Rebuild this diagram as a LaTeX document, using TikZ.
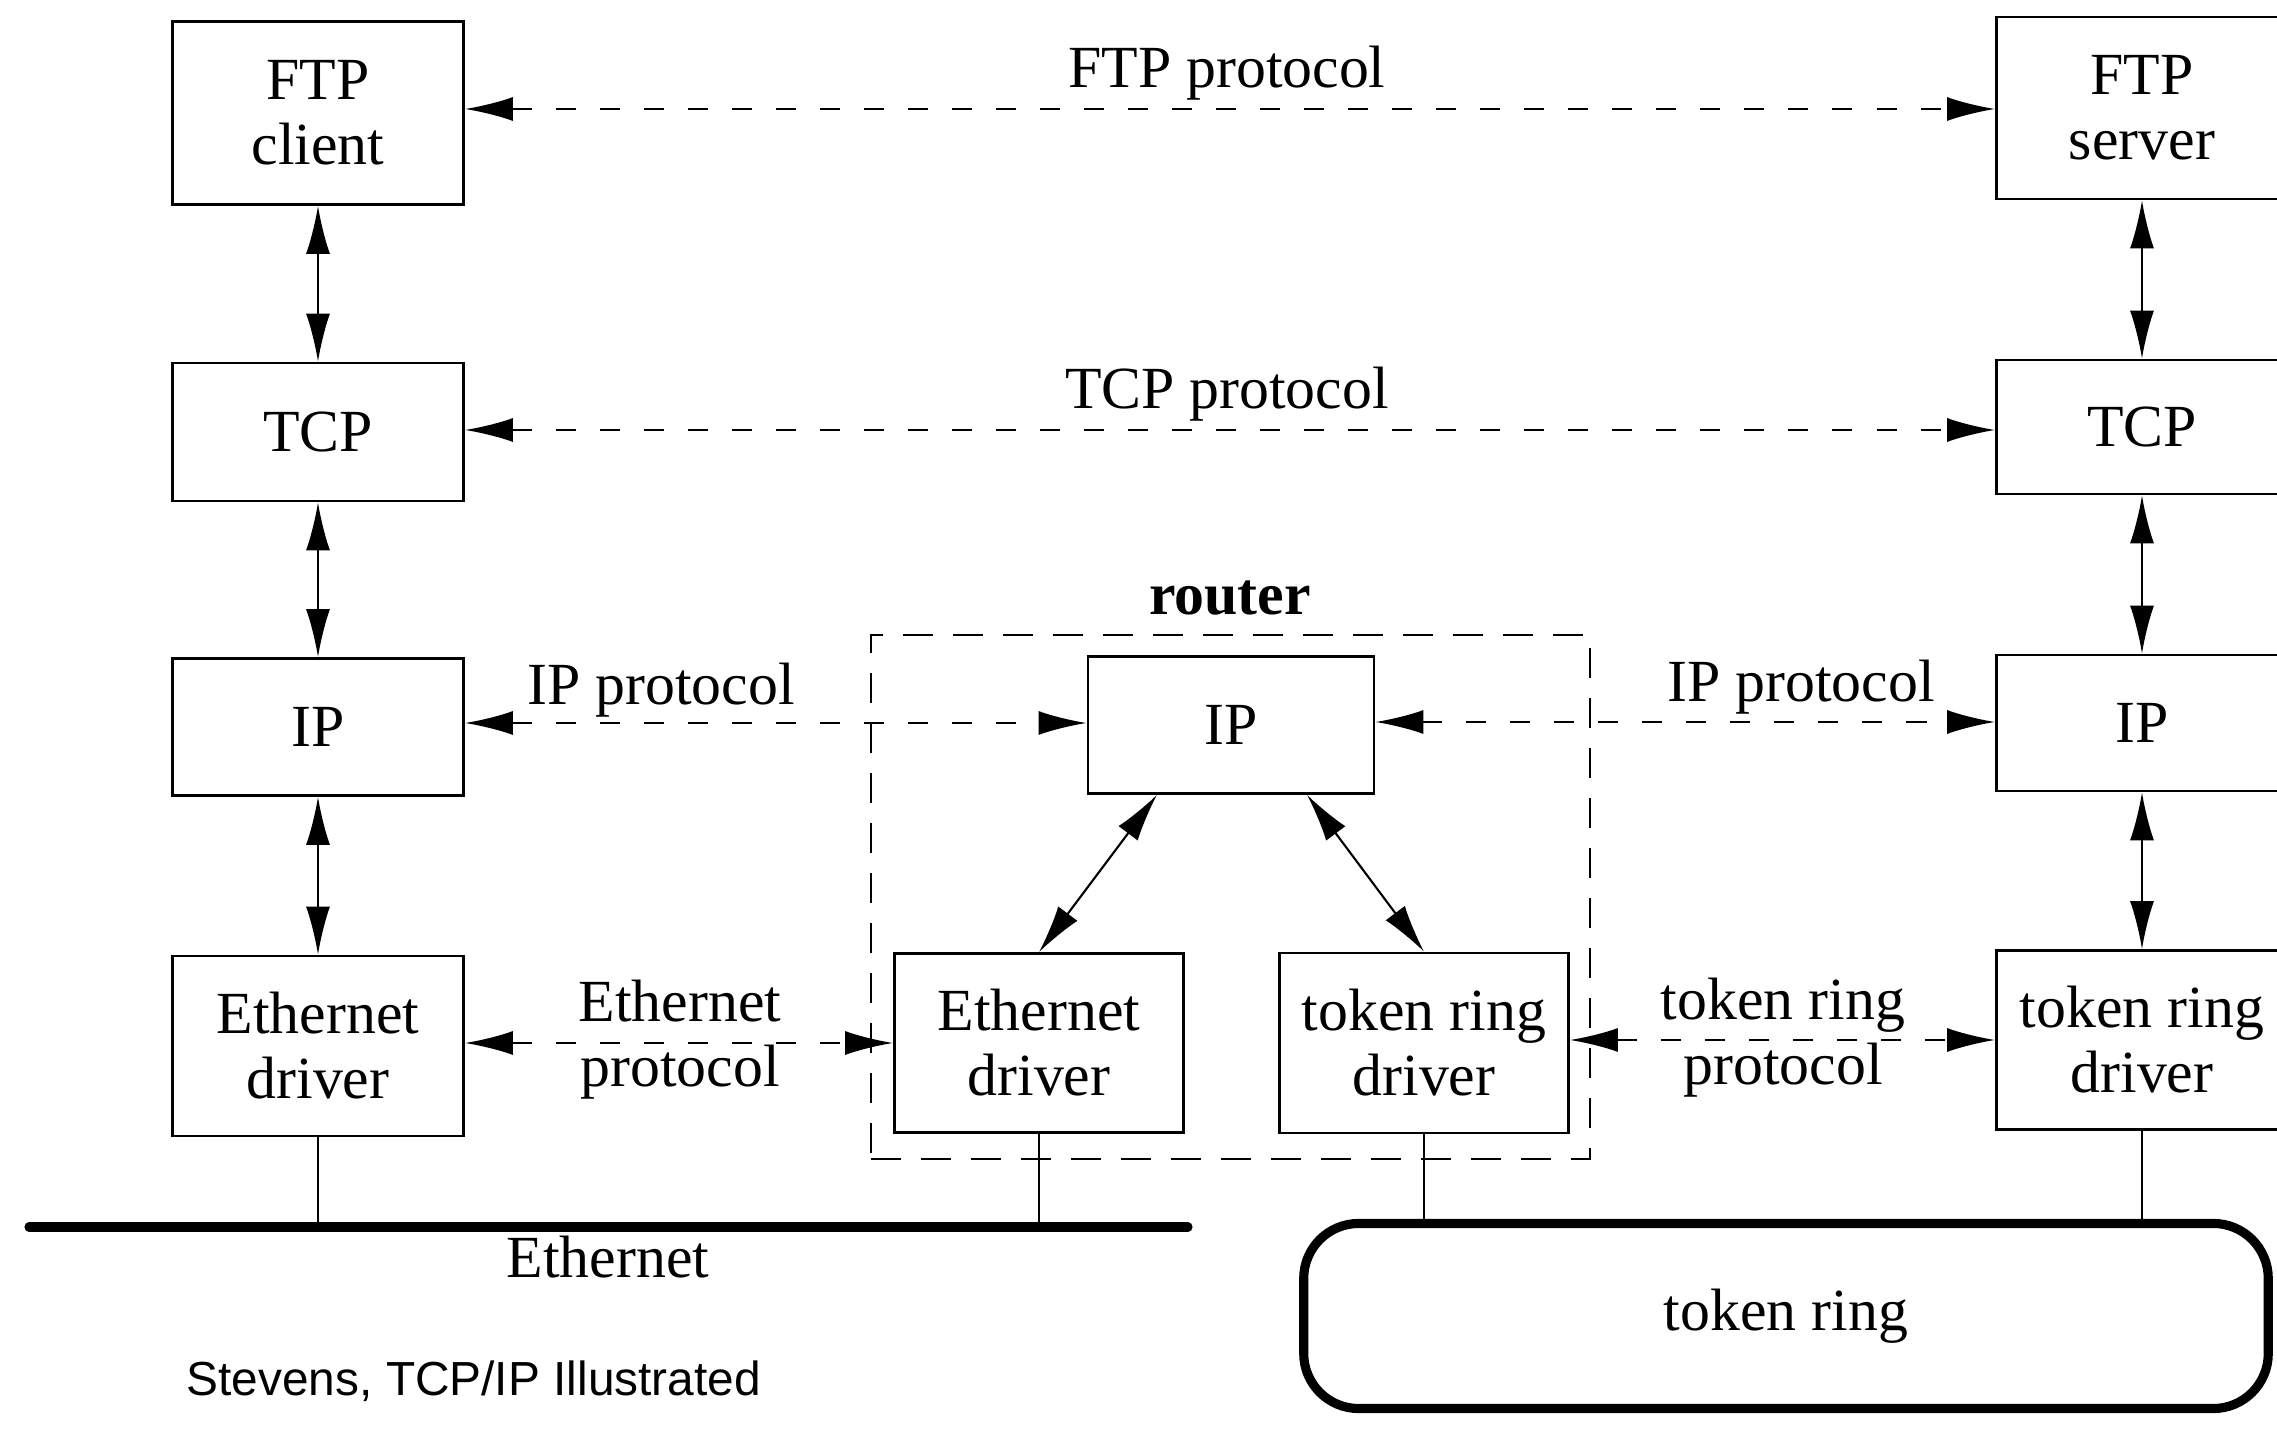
\documentclass[tikz,border=0pt]{standalone}
\usepackage{fontspec}
\setmainfont{Liberation Serif}
\newfontfamily\creditfont{Liberation Sans}
\usetikzlibrary{arrows.meta}
\begin{document}
\begin{tikzpicture}[x=0.01cm,y=-0.01cm,
  box/.style={draw, line width=0.75pt, minimum width=2.91cm, align=center, inner sep=0pt, font=\fontsize{17}{18.5}\selectfont},
  lbl/.style={align=center, inner sep=1pt, font=\fontsize{17}{18.5}\selectfont},
  link/.style={line width=0.6pt, {Latex[length=0.48cm,width=0.24cm]}-{Latex[length=0.48cm,width=0.24cm]}},
  proto/.style={link, line width=0.7pt, dash pattern=on 0.2cm off 0.24cm},
  wire/.style={line width=0.6pt},
  cable/.style={line width=2.6pt, line cap=round}]
\fill[white] (0,0) rectangle (2277,1443);
\useasboundingbox (0,0) rectangle (2277,1443);
\clip (0,0) rectangle (2277,1443);

% left host
\node[box, minimum height=1.83cm] (ftpc) at (318,113) {FTP\\client};
\node[box, minimum height=1.38cm] (tcpl) at (318,432) {TCP};
\node[box, minimum height=1.37cm] (ipl) at (318,727) {IP};
\node[box, minimum height=1.80cm] (ethl) at (318,1046) {Ethernet\\driver};
% right host
\node[box, minimum height=1.82cm] (ftps) at (2142,108) {FTP\\server};
\node[box, minimum height=1.34cm] (tcpr) at (2142,427) {TCP};
\node[box, minimum height=1.36cm] (ipr) at (2142,723) {IP};
\node[box, minimum height=1.79cm] (trr) at (2142,1040) {token ring\\driver};
% router
\node[draw, line width=0.7pt, dash pattern=on 0.3cm off 0.2cm, minimum width=7.19cm, minimum height=5.24cm, inner sep=0pt] (router) at (1230.5,897) {};
\node[lbl, font=\fontsize{17}{18.5}\selectfont\bfseries] (routerlbl) at (1230,598) {router};
\node[box, minimum width=2.86cm, minimum height=1.37cm] (rip) at (1231,725) {IP};
\node[box, minimum width=2.89cm, minimum height=1.79cm] (reth) at (1039,1043) {Ethernet\\driver};
\node[box, minimum width=2.89cm, minimum height=1.80cm] (rtr) at (1424,1043) {token ring\\driver};

% vertical links
\draw[link] (ftpc) -- (tcpl);
\draw[link] (tcpl) -- (ipl);
\draw[link] (ipl) -- (ethl);
\draw[link] (ftps) -- (tcpr);
\draw[link] (tcpr) -- (ipr);
\draw[link] (ipr) -- (trr);
\draw[link] ([xshift=-0.74cm]rip.south) -- (reth.north);
\draw[link] ([xshift=0.76cm]rip.south) -- (rtr.north);

% protocols
\draw[proto] (ftpc.east |- 0,109) -- (ftps.west |- 0,109);
\node[lbl] (ftpp) at (1227,73) {FTP protocol};
\draw[proto] (tcpl.east |- 0,430) -- (tcpr.west |- 0,430);
\node[lbl] (tcpp) at (1227,394) {TCP protocol};
\draw[proto] (ipl.east |- 0,723) -- (rip.west |- 0,723);
\node[lbl] (ippl) at (661,690) {IP protocol};
\draw[proto] (rip.east |- 0,722) -- (ipr.west |- 0,722);
\node[lbl] (ippr) at (1801,687) {IP protocol};
\draw[proto] (ethl.east |- 0,1043) -- (reth.west |- 0,1043);
\node[lbl] (ethp) at (680,1040) {Ethernet\\protocol};
\draw[proto] (rtr.east |- 0,1040) -- (trr.west |- 0,1040);
\node[lbl] (trp) at (1783,1038) {token ring\\protocol};

% Ethernet cable
\coordinate (ethA) at (29,1227);
\coordinate (ethB) at (1188,1227);
\draw[cable] (ethA) -- (ethB);
\node[lbl] (ethlbl) at (608,1257) {Ethernet};
\draw[wire] (ethl.south) -- (ethl.south |- ethA);
\draw[wire] (reth.south) -- (reth.south |- ethA);

% token ring
\node[draw, line width=2.6pt, rounded corners=0.55cm, minimum width=9.64cm, minimum height=1.85cm, font=\fontsize{17}{18.5}\selectfont] (ring) at (1786,1316) {token ring};
\draw[wire] (rtr.south) -- (rtr.south |- ring.north);
\draw[wire] (trr.south) -- (trr.south |- ring.north);

% credit
\node[anchor=west, inner sep=0pt, font=\creditfont\fontsize{13.6}{16}\selectfont] (credit) at (186,1381) {Stevens, TCP/IP Illustrated};
\end{tikzpicture}
\end{document}
